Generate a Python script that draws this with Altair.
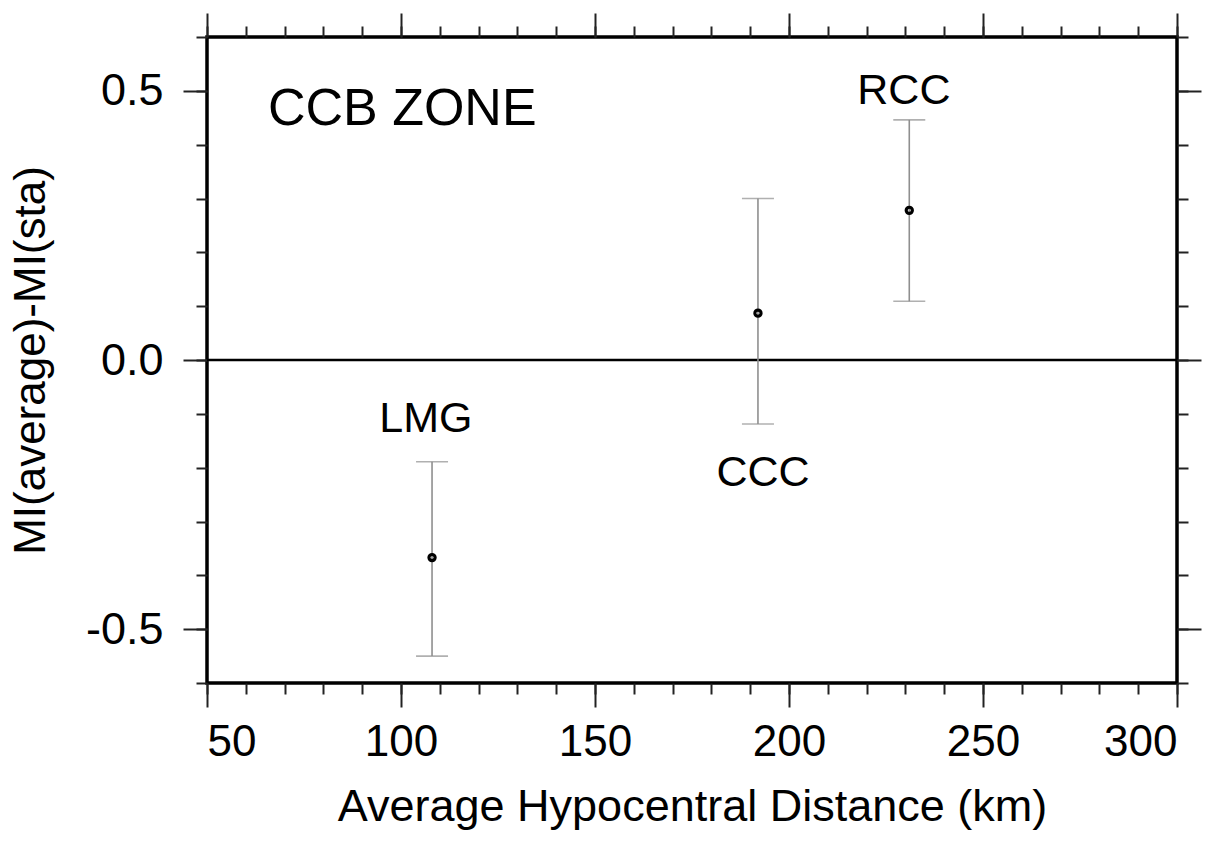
import altair as alt
import pandas as pd

# ---- data ----
stations = ["LMG", "CCC", "RCC"]
distance = [108, 192, 231]
residual = [-0.367, 0.087, 0.278]
err_low = [-0.55, -0.119, 0.109]
err_high = [-0.189, 0.30, 0.446]
label_x = [106.4, 193.3, 229.6]
label_y = [-0.11, -0.21, 0.50]

zone_text = ["CCB ZONE"]
zone_x = [65.7]
zone_y = [0.467]

x_major = [50, 100, 150, 200, 250, 300]
x_minor = [50, 60, 70, 80, 90, 100, 110, 120, 130, 140, 150, 160, 170, 180, 190,
           200, 210, 220, 230, 240, 250, 260, 270, 280, 290, 300]
y_major = [-0.5, 0.0, 0.5]
y_minor = [-0.6, -0.5, -0.4, -0.3, -0.2, -0.1, 0.0, 0.1, 0.2, 0.3, 0.4, 0.5, 0.6]
zero_line = [0.0]

FONT = "Liberation Sans"

pts = pd.DataFrame({"station": stations, "x": distance, "y": residual,
                    "lo": err_low, "hi": err_high})
caps = pd.DataFrame({"x": distance + distance, "y": err_low + err_high})
labels = pd.DataFrame({"station": stations, "x": label_x, "y": label_y})
zone = pd.DataFrame({"t": zone_text, "x": zone_x, "y": zone_y})
zero = pd.DataFrame({"v": zero_line})

xs = alt.Scale(domain=[50, 300], nice=False, zero=False)
ys = alt.Scale(domain=[-0.6, 0.6], nice=False, zero=False)

MAJ = 24
MIN = 11


def ax(orient, values, size):
    return alt.Axis(orient=orient, values=values, tickSize=size, labels=False,
                    domain=False, grid=False, ticks=True, tickColor="#222222",
                    tickWidth=2)


ylab_expr = "datum.value == 0 ? '0.0' : (datum.value < 0 ? '-' : '') + format(abs(datum.value), '.1f')"

bars = alt.Chart(pts).mark_rule(color="#8f8f8f", strokeWidth=1.6).encode(
    x=alt.X("x:Q", scale=xs, title="Average Hypocentral Distance (km)",
            axis=alt.Axis(orient="bottom", values=x_major, tickSize=MAJ, labels=True,
                          domain=False, grid=False, tickColor="#222222", tickWidth=2,
                          format="d", labelPadding=13, titlePadding=20,
                          titleFontSize=45)),
    y=alt.Y("lo:Q", scale=ys, title="MI(average)-MI(sta)",
            axis=alt.Axis(orient="left", values=y_major, tickSize=MAJ, labels=True,
                          domain=False, grid=False, tickColor="#222222", tickWidth=2,
                          labelExpr=ylab_expr, labelPadding=20, titlePadding=32,
                          labelFontSize=45)),
    y2="hi:Q",
)

capmarks = alt.Chart(caps).mark_tick(orient="horizontal", size=32, thickness=1.6,
                                     color="#8f8f8f").encode(
    x=alt.X("x:Q", scale=xs, title=None, axis=ax("bottom", x_minor, MIN)),
    y=alt.Y("y:Q", scale=ys, title=None, axis=ax("left", y_minor, MIN)),
)

points = alt.Chart(pts).mark_point(shape="circle", filled=False, color="black",
                                   strokeWidth=3.2, size=38, opacity=1).encode(
    x=alt.X("x:Q", scale=xs, title=None, axis=ax("top", x_major, MAJ)),
    y=alt.Y("y:Q", scale=ys, title=None, axis=ax("right", y_major, MAJ)),
)

texts = alt.Chart(labels).mark_text(font=FONT, fontSize=43, color="black",
                                    align="center", baseline="middle").encode(
    x=alt.X("x:Q", scale=xs, title=None, axis=ax("top", x_minor, MIN)),
    y=alt.Y("y:Q", scale=ys, title=None, axis=ax("right", y_minor, MIN)),
    text="station:N",
)

zero_rule = alt.Chart(zero).mark_rule(color="black", strokeWidth=2.4).encode(
    y=alt.Y("v:Q", scale=ys, axis=None),
)

zone_txt = alt.Chart(zone).mark_text(font=FONT, fontSize=52, color="black",
                                     align="left", baseline="middle").encode(
    x=alt.X("x:Q", scale=xs, axis=None),
    y=alt.Y("y:Q", scale=ys, axis=None),
    text="t:N",
)

chart = alt.layer(zero_rule, bars, capmarks, points, texts, zone_txt).resolve_axis(
    x="independent", y="independent"
).properties(
    width=970, height=646,
    autosize=alt.AutoSizeParams(type="none"),
    padding={"left": 207, "top": 37, "right": 48, "bottom": 160},
    background="white",
).configure_view(
    stroke="black", strokeWidth=3.5
).configure_axis(
    labelFont=FONT, labelFontSize=44, labelColor="black",
    titleFont=FONT, titleFontSize=44, titleFontWeight="normal", titleColor="black",
)

chart.save("out.html", embed_options={"renderer": "svg", "actions": False})
